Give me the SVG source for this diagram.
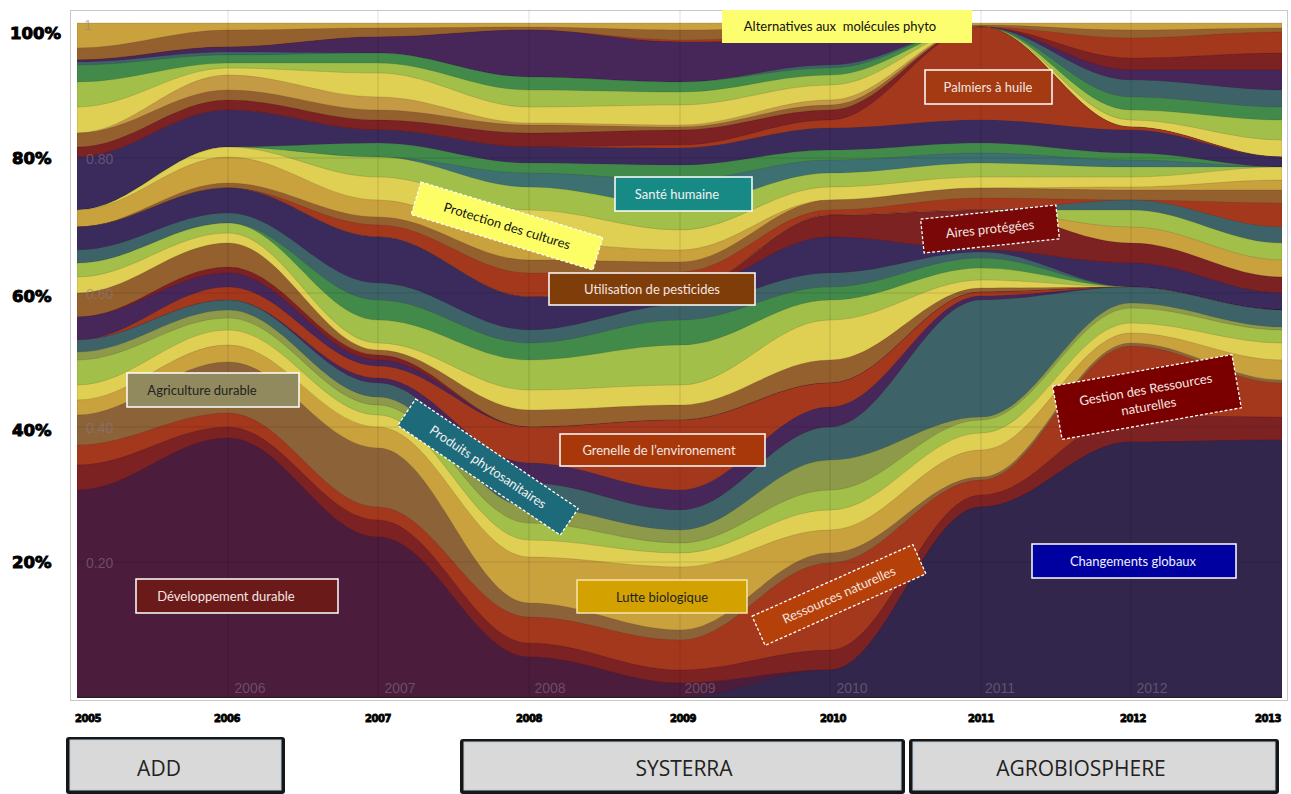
<svg xmlns="http://www.w3.org/2000/svg" width="1291" height="794" viewBox="0 0 1291 794">
<defs>
<style>
.gd{fill:#c9a13d}.br{fill:#94602f}.bn{fill:#8c6438}.rd{fill:#a4381f}.dr{fill:#7d2024}.pu{fill:#46265a}.nv{fill:#3b2b5c}.sl{fill:#3e6468}.tl{fill:#3d7070}.gn{fill:#438a4a}.yg{fill:#a2bf48}.ye{fill:#dfcf52}.tn{fill:#c49a45}.ol{fill:#8c9a48}.dd{fill:#4b1d3a}.cg{fill:#30284e}
#streams path{stroke:#2a1a20;stroke-opacity:.18;stroke-width:.8}
.grid{stroke:#000;stroke-opacity:.12;stroke-width:1}
.inner{font-family:"Liberation Sans",Arial,sans-serif;font-size:14px;fill:#8a7a8a;fill-opacity:.55}
.pct{font-family:"DejaVu Sans",sans-serif;font-weight:900;font-size:16.5px;fill:#000;stroke:#000;stroke-width:1}
.yr{font-family:"DejaVu Sans",sans-serif;font-weight:900;font-size:10px;fill:#000;stroke:#000;stroke-width:.8;text-anchor:middle;letter-spacing:-.4px}
.lbl{font-family:Lato,"Open Sans",sans-serif;font-size:13px;text-anchor:middle;white-space:pre}
.box{stroke:#fff;stroke-width:1.5}
.dash{stroke:#fff;stroke-width:1.3;stroke-dasharray:3 2}
.btn{font-family:"Open Sans","Liberation Sans",sans-serif;font-size:21px;fill:#222;text-anchor:middle}
</style>
<clipPath id="plot"><rect x="77" y="10" width="1205" height="688"/></clipPath>
<filter id="soft"><feGaussianBlur stdDeviation="0.7"/></filter>
</defs>
<rect width="1291" height="794" fill="#fff"/>
<rect x="70.5" y="10.5" width="1217" height="690" fill="#fff" stroke="#c8c8c8"/>
<g clip-path="url(#plot)">
<g id="streams" filter="url(#soft)">
<path class="gd" d="M77,697V23C132,23 173,23 228,23S323,23 378,23S474,23 529,23S625,23 680,23S775,23 830,23S926,23 981,23S1076,23 1131,23S1227,23 1282,23V697Z"/>
<path class="br" d="M77,697V48C132,48 173,30 228,30S323,28 378,28S474,27 529,27S625,30 680,30S775,28 830,28S926,25 981,25S1076,30 1131,30S1227,28 1282,28V697Z"/>
<path class="rd" d="M77,697V60C132,60 173,47 228,47S323,37 378,37S474,30 529,30S625,40 680,40S775,35 830,35S926,27 981,27S1076,38 1131,38S1227,32 1282,32V697Z"/>
<path class="dr" d="M77,697V60C132,60 173,47 228,47S323,37 378,37S474,30 529,30S625,42 680,42S775,40 830,40S926,27 981,27S1076,58 1131,58S1227,53 1282,53V697Z"/>
<path class="pu" d="M77,697V60C132,60 173,47 228,47S323,37 378,37S474,30 529,30S625,42 680,42S775,42 830,42S926,27 981,27S1076,70 1131,70S1227,70 1282,70V697Z"/>
<path class="sl" d="M77,697V62C132,62 173,52 228,52S323,53 378,53S474,77 529,77S625,82 680,82S775,65 830,65S926,27 981,27S1076,80 1131,80S1227,90 1282,90V697Z"/>
<path class="gn" d="M77,697V65C132,65 173,55 228,55S323,53 378,53S474,77 529,77S625,82 680,82S775,68 830,68S926,27 981,27S1076,97 1131,97S1227,107 1282,107V697Z"/>
<path class="yg" d="M77,697V82C132,82 173,63 228,63S323,63 378,63S474,90 529,90S625,92 680,92S775,75 830,75S926,27 981,27S1076,110 1131,110S1227,120 1282,120V697Z"/>
<path class="ye" d="M77,697V107C132,107 173,68 228,68S323,73 378,73S474,107 529,107S625,105 680,105S775,85 830,85S926,27 981,27S1076,120 1131,120S1227,140 1282,140V697Z"/>
<path class="tn" d="M77,697V133C132,133 173,75 228,75S323,97 378,97S474,123 529,123S625,125 680,125S775,100 830,100S926,27 981,27S1076,127 1131,127S1227,157 1282,157V697Z"/>
<path class="br" d="M77,697V133C132,133 173,90 228,90S323,110 378,110S474,125 529,125S625,127 680,127S775,105 830,105S926,27 981,27S1076,127 1131,127S1227,157 1282,157V697Z"/>
<path class="dr" d="M77,697V147C132,147 173,100 228,100S323,120 378,120S474,133 529,133S625,130 680,130S775,110 830,110S926,27 981,27S1076,127 1131,127S1227,157 1282,157V697Z"/>
<path class="rd" d="M77,697V157C132,157 173,110 228,110S323,130 378,130S474,147 529,147S625,145 680,145S775,120 830,120S926,27 981,27S1076,127 1131,127S1227,157 1282,157V697Z"/>
<path class="nv" d="M77,697V157C132,157 173,110 228,110S323,130 378,130S474,147 529,147S625,148 680,148S775,128 830,128S926,120 981,120S1076,130 1131,130S1227,157 1282,157V697Z"/>
<path class="gn" d="M77,697V210C132,210 173,147 228,147S323,143 378,143S474,163 529,163S625,165 680,165S775,150 830,150S926,143 981,143S1076,153 1131,153S1227,167 1282,167V697Z"/>
<path class="tl" d="M77,697V210C132,210 173,147 228,147S323,157 378,157S474,173 529,173S625,180 680,180S775,160 830,160S926,153 981,153S1076,160 1131,160S1227,167 1282,167V697Z"/>
<path class="yg" d="M77,697V210C132,210 173,147 228,147S323,157 378,157S474,187 529,187S625,205 680,205S775,173 830,173S926,163 981,163S1076,167 1131,167S1227,167 1282,167V697Z"/>
<path class="ye" d="M77,697V210C132,210 173,147 228,147S323,177 378,177S474,210 529,210S625,230 680,230S775,187 830,187S926,177 981,177S1076,177 1131,177S1227,167 1282,167V697Z"/>
<path class="gd" d="M77,697V210C132,210 173,157 228,157S323,200 378,200S474,243 529,243S625,250 680,250S775,200 830,200S926,188 981,188S1076,187 1131,187S1227,180 1282,180V697Z"/>
<path class="br" d="M77,697V227C132,227 173,183 228,183S323,217 378,217S474,260 529,260S625,262 680,262S775,200 830,200S926,188 981,188S1076,190 1131,190S1227,190 1282,190V697Z"/>
<path class="rd" d="M77,697V227C132,227 173,188 228,188S323,225 378,225S474,273 529,273S625,272 680,272S775,210 830,210S926,198 981,198S1076,200 1131,200S1227,203 1282,203V697Z"/>
<path class="sl" d="M77,697V227C132,227 173,188 228,188S323,237 378,237S474,297 529,297S625,290 680,290S775,215 830,215S926,210 981,210S1076,200 1131,200S1227,227 1282,227V697Z"/>
<path class="yg" d="M77,697V227C132,227 173,188 228,188S323,237 378,237S474,297 529,297S625,290 680,290S775,215 830,215S926,210 981,210S1076,210 1131,210S1227,243 1282,243V697Z"/>
<path class="gd" d="M77,697V227C132,227 173,188 228,188S323,237 378,237S474,297 529,297S625,290 680,290S775,215 830,215S926,210 981,210S1076,227 1131,227S1227,260 1282,260V697Z"/>
<path class="dr" d="M77,697V227C132,227 173,188 228,188S323,237 378,237S474,297 529,297S625,290 680,290S775,215 830,215S926,210 981,210S1076,243 1131,243S1227,277 1282,277V697Z"/>
<path class="nv" d="M77,697V227C132,227 173,188 228,188S323,237 378,237S474,297 529,297S625,290 680,290S775,237 830,237S926,250 981,250S1076,263 1131,263S1227,293 1282,293V697Z"/>
<path class="sl" d="M77,697V250C132,250 173,213 228,213S323,283 378,283S474,330 529,330S625,305 680,305S775,273 830,273S926,252 981,252S1076,287 1131,287S1227,310 1282,310V697Z"/>
<path class="gn" d="M77,697V263C132,263 173,223 228,223S323,300 378,300S474,343 529,343S625,320 680,320S775,287 830,287S926,258 981,258S1076,287 1131,287S1227,310 1282,310V697Z"/>
<path class="yg" d="M77,697V263C132,263 173,223 228,223S323,320 378,320S474,360 529,360S625,345 680,345S775,300 830,300S926,268 981,268S1076,287 1131,287S1227,310 1282,310V697Z"/>
<path class="ye" d="M77,697V277C132,277 173,233 228,233S323,343 378,343S474,390 529,390S625,385 680,385S775,320 830,320S926,280 981,280S1076,287 1131,287S1227,310 1282,310V697Z"/>
<path class="br" d="M77,697V293C132,293 173,243 228,243S323,350 378,350S474,410 529,410S625,405 680,405S775,360 830,360S926,288 981,288S1076,287 1131,287S1227,310 1282,310V697Z"/>
<path class="dr" d="M77,697V317C132,317 173,267 228,267S323,355 378,355S474,427 529,427S625,420 680,420S775,383 830,383S926,292 981,292S1076,287 1131,287S1227,310 1282,310V697Z"/>
<path class="pu" d="M77,697V317C132,317 173,273 228,273S323,360 378,360S474,427 529,427S625,420 680,420S775,383 830,383S926,292 981,292S1076,287 1131,287S1227,310 1282,310V697Z"/>
<path class="rd" d="M77,697V340C132,340 173,287 228,287S323,366 378,366S474,427 529,427S625,420 680,420S775,383 830,383S926,292 981,292S1076,287 1131,287S1227,310 1282,310V697Z"/>
<path class="pu" d="M77,697V340C132,340 173,300 228,300S323,378 378,378S474,463 529,463S625,490 680,490S775,407 830,407S926,296 981,296S1076,287 1131,287S1227,310 1282,310V697Z"/>
<path class="sl" d="M77,697V340C132,340 173,300 228,300S323,383 378,383S474,483 529,483S625,510 680,510S775,427 830,427S926,300 981,300S1076,287 1131,287S1227,310 1282,310V697Z"/>
<path class="ol" d="M77,697V352C132,352 173,310 228,310S323,397 378,397S474,507 529,507S625,530 680,530S775,460 830,460S926,417 981,417S1076,303 1131,303S1227,327 1282,327V697Z"/>
<path class="yg" d="M77,697V360C132,360 173,318 228,318S323,405 378,405S474,523 529,523S625,543 680,543S775,490 830,490S926,420 981,420S1076,308 1131,308S1227,330 1282,330V697Z"/>
<path class="ye" d="M77,697V385C132,385 173,330 228,330S323,415 378,415S474,540 529,540S625,553 680,553S775,510 830,510S926,433 981,433S1076,323 1131,323S1227,343 1282,343V697Z"/>
<path class="gd" d="M77,697V400C132,400 173,345 228,345S323,427 378,427S474,557 529,557S625,567 680,567S775,530 830,530S926,450 981,450S1076,333 1131,333S1227,360 1282,360V697Z"/>
<path class="bn" d="M77,697V415C132,415 173,362 228,362S323,448 378,448S474,603 529,603S625,630 680,630S775,553 830,553S926,477 981,477S1076,343 1131,343S1227,380 1282,380V697Z"/>
<path class="rd" d="M77,697V445C132,445 173,413 228,413S323,507 378,507S474,617 529,617S625,640 680,640S775,563 830,563S926,480 981,480S1076,346 1131,346S1227,383 1282,383V697Z"/>
<path class="dr" d="M77,697V465C132,465 173,427 228,427S323,520 378,520S474,643 529,643S625,670 680,670S775,650 830,650S926,495 981,495S1076,415 1131,415S1227,417 1282,417V697Z"/>
<path class="dd" d="M77,697V490C132,490 173,438 228,438S323,537 378,537S474,657 529,657S625,683 680,683S775,670 830,670S926,507 981,507S1076,442 1131,442S1227,440 1282,440V697Z"/>
<path class="cg" d="M77,697V697C132,697 173,697 228,697S323,697 378,697S474,697 529,697S625,697 680,697S775,670 830,670S926,507 981,507S1076,442 1131,442S1227,440 1282,440V697Z"/>
</g>
</g>
<g id="grid">
<path class="grid" d="M228,10V697M378,10V697M529,10V697M680,10V697M830,10V697M981,10V697M1131,10V697M77,158H1282M77,293H1282M77,427H1282M77,562H1282"/>
<text class="inner" x="84" y="30">1</text>
<text class="inner" x="86" y="164">0.80</text>
<text class="inner" x="86" y="299">0.60</text>
<text class="inner" x="86" y="433">0.40</text>
<text class="inner" x="86" y="568">0.20</text>
<text class="inner" x="250" y="693" text-anchor="middle">2006</text>
<text class="inner" x="400" y="693" text-anchor="middle">2007</text>
<text class="inner" x="550" y="693" text-anchor="middle">2008</text>
<text class="inner" x="700" y="693" text-anchor="middle">2009</text>
<text class="inner" x="852" y="693" text-anchor="middle">2010</text>
<text class="inner" x="1000" y="693" text-anchor="middle">2011</text>
<text class="inner" x="1152" y="693" text-anchor="middle">2012</text>
</g>
<g id="y-axis">
<text class="pct" x="10" y="39">100%</text>
<text class="pct" x="12" y="164">80%</text>
<text class="pct" x="12" y="302">60%</text>
<text class="pct" x="12" y="436">40%</text>
<text class="pct" x="12" y="568">20%</text>
</g>
<g id="x-axis">
<text class="yr" x="88" y="722">2005</text>
<text class="yr" x="227" y="722">2006</text>
<text class="yr" x="378" y="722">2007</text>
<text class="yr" x="529" y="722">2008</text>
<text class="yr" x="683" y="722">2009</text>
<text class="yr" x="833" y="722">2010</text>
<text class="yr" x="981" y="722">2011</text>
<text class="yr" x="1133" y="722">2012</text>
<text class="yr" x="1268" y="722">2013</text>
</g>
<g id="label-alternatives">
<rect x="722" y="10" width="250" height="33" fill="#fdfd70"/>
<text class="lbl" x="840" y="31" fill="#111" font-size="12.5">Alternatives aux  molécules phyto</text>
</g>
<g id="label-palmiers">
<rect class="box" x="925" y="70" width="127" height="34" fill="#a33a12"/>
<text class="lbl" x="988" y="92" fill="#f5e6e0" font-size="12.5">Palmiers à huile</text>
</g>
<g id="label-sante">
<rect class="box" x="615" y="177" width="137" height="34" fill="#178a86"/>
<text class="lbl" x="677" y="199" fill="#f2f2f2">Santé humaine</text>
</g>
<g id="label-protection" transform="translate(507,226) rotate(17)">
<rect class="dash" x="-95" y="-17" width="190" height="34" fill="#fdfd66"/>
<text class="lbl" x="0" y="4.5" fill="#111" font-size="12.5">Protection des cultures</text>
</g>
<g id="label-pesticides">
<rect class="box" x="549" y="273" width="206" height="32" fill="#7f3d0a"/>
<text class="lbl" x="652" y="294" fill="#f5e6e0">Utilisation de pesticides</text>
</g>
<g id="label-aires" transform="translate(990,229) rotate(-6)">
<rect class="dash" x="-68" y="-17" width="136" height="34" fill="#7a0808"/>
<text class="lbl" x="0" y="4.5" fill="#f5e6e0" font-size="12.5">Aires protégées</text>
</g>
<g id="label-agriculture">
<rect class="box" x="127" y="373" width="172" height="34" fill="#918a5e"/>
<text class="lbl" x="202" y="395" fill="#222" font-size="12.5">Agriculture durable</text>
</g>
<g id="label-produits" transform="translate(488,467) rotate(34)">
<rect class="dash" x="-98" y="-16" width="196" height="32" fill="#1d6a7a"/>
<text class="lbl" x="0" y="4.5" fill="#f0f0f0" font-size="12.5">Produits phytosanitaires</text>
</g>
<g id="label-grenelle">
<rect class="box" x="560" y="434" width="205" height="32" fill="#a8380a"/>
<text class="lbl" x="659" y="455" fill="#f5e6e0" font-size="12.5">Grenelle de l’environement</text>
</g>
<g id="label-gestion" transform="translate(1147,397) rotate(-10)">
<rect class="dash" x="-91" y="-27" width="182" height="54" fill="#7a0000"/>
<text class="lbl" x="0" y="-3" fill="#f5e6e0" font-size="12.5">Gestion des Ressources</text>
<text class="lbl" x="0" y="14" fill="#f5e6e0" font-size="12.5">naturelles</text>
</g>
<g id="label-globaux">
<rect class="box" x="1032" y="544" width="204" height="34" fill="#0000a0"/>
<text class="lbl" x="1133" y="566" fill="#f0f0ff">Changements globaux</text>
</g>
<g id="label-lutte">
<rect x="577" y="580" width="170" height="33" fill="#d4a200" stroke="#f3e6a8" stroke-width="1.5"/>
<text class="lbl" x="662" y="602" fill="#222">Lutte biologique</text>
</g>
<g id="label-ressources" transform="translate(839,595) rotate(-24)">
<rect class="dash" x="-88" y="-16" width="176" height="32" fill="#b5400a"/>
<text class="lbl" x="0" y="4.5" fill="#f5e6e0" font-size="12.5">Ressources naturelles</text>
</g>
<g id="label-developpement">
<rect class="box" x="136" y="579" width="202" height="34" fill="#6b1a1a"/>
<text class="lbl" x="226" y="601" fill="#f5e6e0">Développement durable</text>
</g>
<g id="btn-add">
<rect x="66" y="737" width="219" height="57" rx="3" fill="#161616"/>
<rect x="70" y="740" width="211" height="50" fill="#d9d9d9" stroke="#b8cde0"/>
<text class="btn" x="159" y="776">ADD</text>
</g>
<g id="btn-systerra">
<rect x="460" y="739" width="445" height="55" rx="3" fill="#161616"/>
<rect x="464" y="742" width="437" height="48" fill="#d9d9d9" stroke="#b8cde0"/>
<text class="btn" x="684" y="776">SYSTERRA</text>
</g>
<g id="btn-agrobiosphere">
<rect x="909" y="739" width="370" height="55" rx="3" fill="#161616"/>
<rect x="913" y="742" width="362" height="48" fill="#d9d9d9" stroke="#b8cde0"/>
<text class="btn" x="1081" y="776">AGROBIOSPHERE</text>
</g>
</svg>
